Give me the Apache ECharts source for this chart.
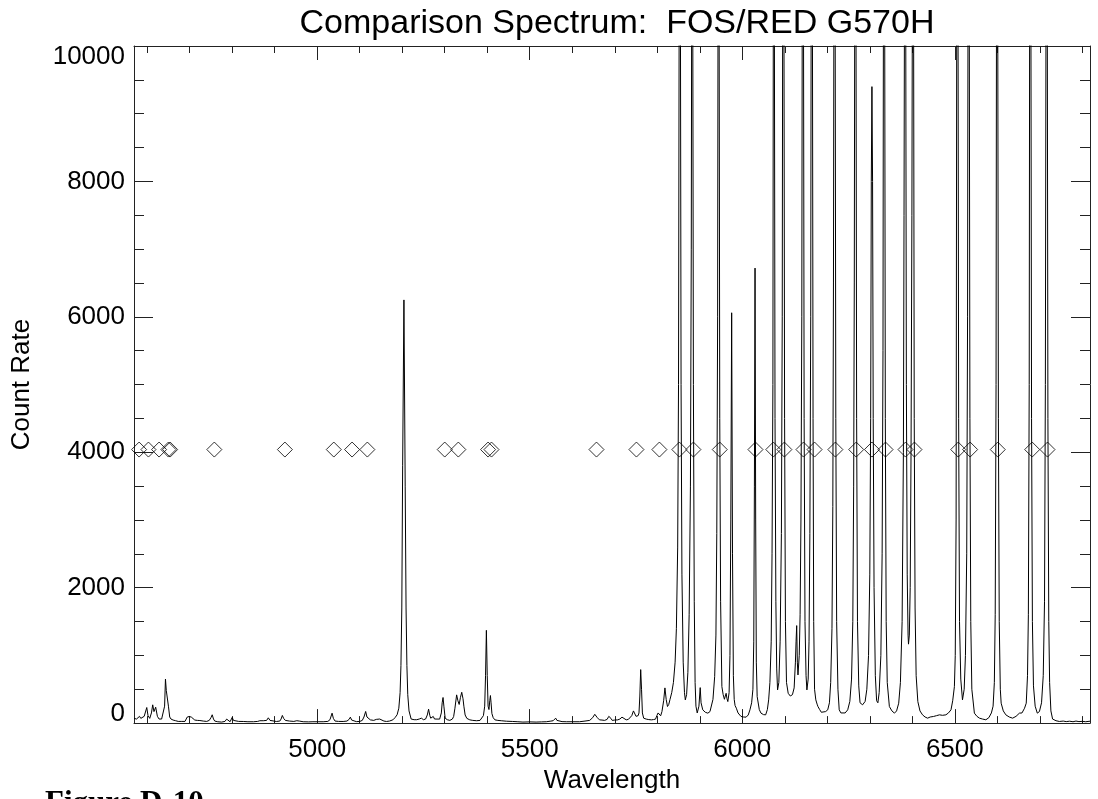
<!DOCTYPE html>
<html><head><meta charset="utf-8">
<script src="https://cdn.jsdelivr.net/npm/echarts@6/dist/echarts.min.js"></script>
<style>html,body{margin:0;padding:0;background:#fff}#c{width:1098px;height:799px}</style>
</head><body><div id="c"></div>
<script>
// ---- data ----
const titleText = 'Comparison Spectrum:  FOS/RED G570H';
const xName = 'Wavelength';
const yName = 'Count Rate';
const captionText = 'Figure D-10';
const xRange = [4569, 6818];
const yRange = [0, 10000];
const xTickLabels = [5000, 5500, 6000, 6500];
const yTickLabels = [0, 2000, 4000, 6000, 8000, 10000];

// spectrum, blue part [wavelength, count rate]
const specBlue = [
[4569,70],[4572,95],[4575,60],[4579,55],[4582,100],[4585,70],[4589,55],[4593,100],[4596,110],[4599,230],
[4602,110],[4606,70],[4610,150],[4613,270],[4616,170],[4620,235],[4624,100],[4628,60],[4634,60],[4638,70],
[4641,250],[4643,650],[4645,480],[4648,460],[4650,250],[4653,90],[4656,60],[4661,45],[4667,35],[4673,25],
[4680,25],[4689,25],[4694,88],[4699,98],[4701,80],[4704,88],[4708,60],[4712,45],[4718,40],[4724,38],
[4732,30],[4740,25],[4746,40],[4750,80],[4753,123],[4756,60],[4759,30],[4766,20],[4775,15],[4783,25],
[4787,59],[4790,30],[4795,20],[4800,84],[4803,40],[4806,20],[4815,25],[4826,24],[4837,20],[4850,20],
[4860,25],[4865,35],[4869,59],[4873,35],[4877,24],[4881,40],[4885,78],[4889,40],[4893,20],[4904,24],
[4912,30],[4915,60],[4918,113],[4921,70],[4925,40],[4935,30],[4945,25],[4952,35],[4955,48],[4958,30],
[4967,20],[4980,18],[4990,20],[5002,20],[5014,20],[5025,25],[5030,50],[5035,147],[5038,70],[5042,30],
[5050,25],[5061,24],[5070,30],[5075,55],[5078,88],[5081,45],[5085,24],[5092,22],[5100,24],[5106,40],
[5110,90],[5114,172],[5117,90],[5120,64],[5125,48],[5133,40],[5139,55],[5143,78],[5147,60],[5151,48],
[5157,30],[5163,24],[5170,30],[5178,48],[5183,80],[5188,123],[5192,220],[5195,450],[5197,850],[5199,1700],
[5201,3800],[5204,6250],[5207,3500],[5209,1700],[5211,850],[5213,420],[5216,180],[5221,60],[5228,50],[5234,50],
[5240,60],[5245,73],[5250,50],[5255,60],[5259,120],[5262,206],[5265,110],[5267,73],[5270,90],[5273,98],
[5276,60],[5280,48],[5288,59],[5292,150],[5294,300],[5296,378],[5298,250],[5301,73],[5306,50],[5312,40],
[5318,60],[5321,98],[5324,220],[5328,417],[5331,330],[5334,275],[5337,380],[5340,455],[5343,360],[5345,250],
[5348,120],[5352,70],[5359,48],[5366,40],[5375,35],[5383,40],[5387,48],[5391,110],[5394,250],[5396,700],
[5398,1370],[5400,700],[5402,250],[5404,200],[5406,330],[5407.5,407],[5409,300],[5411,140],[5414,80],[5418,48],
[5425,40],[5433,35],[5445,28],[5460,24],[5472,20],[5484,15],[5500,18],[5515,15],[5528,18],[5539,20],
[5548,28],[5555,35],[5558,50],[5561,73],[5564,40],[5567,24],[5576,22],[5586,20],[5600,20],[5617,20],
[5630,30],[5641,40],[5648,80],[5653,130],[5655,138],[5659,80],[5664,48],[5670,45],[5676,40],[5682,55],
[5686,100],[5688,108],[5691,70],[5694,40],[5700,45],[5707,48],[5712,60],[5715,85],[5717,88],[5721,60],
[5727,48],[5732,55],[5736,73],[5740,110],[5744,180],[5747,197],[5750,100],[5752,73],[5755,110],[5757,150],
[5759,400],[5761,790],[5763,500],[5765,150],[5768,73],[5774,59],[5780,52],[5786,48],[5791,52],[5796,59],
[5799,110],[5802,150],[5805,130],[5808,108],[5811,170],[5813,197],[5815,330],[5818,520],[5821,350],[5824,245],
[5827,275],[5830,350]
];

// spectrum, red part (strong lines run off the top of the plot)
const specRed = [
[5834,450],[5838,600],[5842,900],[5845,1400],[5848,2600],[5850,5000],[5851.5,10500],[5853,25000],[5854.5,10500],[5856,5000],
[5858,2200],[5861,900],[5864,450],[5866,343],[5869,420],[5872,750],[5875,1600],[5878,3500],[5880,7000],[5881,11000],
[5882,25000],[5883.5,10500],[5885,5000],[5887,1800],[5889,600],[5891,250],[5894,150],[5898,250],[5901,524],[5903,300],
[5907,196],[5913,160],[5919,147],[5924,170],[5927,196],[5931,350],[5935,686],[5938,1300],[5940,2800],[5942,6000],
[5943,11000],[5944,25000],[5945.5,10500],[5947,4500],[5949,1800],[5952,539],[5955,420],[5958,352],[5960,400],[5962,440],
[5964,360],[5966,318],[5969,450],[5971,1000],[5973,3000],[5975,6060],[5977,2500],[5979,700],[5981,350],[5983,260],
[5986,220],[5990,150],[5997,98],[6003,90],[6009,88],[6014,120],[6018,196],[6022,300],[6025,500],[6027,1200],
[6028.5,3500],[6030,6720],[6031.5,3000],[6033,900],[6035,392],[6040,200],[6044,147],[6050,125],[6055,122],[6059,200],
[6062,343],[6065,600],[6068,1200],[6070,2500],[6072,5000],[6073,10500],[6074,25000],[6075.5,10500],[6077,4500],[6079,1800],
[6081,800],[6083,490],[6086,600],[6089,1200],[6092,2800],[6094,6000],[6095,10500],[6096.5,25000],[6098,10500],[6099.5,4500],
[6101.5,1500],[6104,600],[6108,440],[6113,400],[6118,420],[6122,520],[6125,900],[6126.5,1200],[6128,1440],[6129.5,900],
[6131,711],[6134,1000],[6136,1600],[6138,3000],[6140,6000],[6141,10500],[6142.5,25000],[6144,10500],[6145.5,4500],[6147.5,1500],
[6150,700],[6152,490],[6155,650],[6157,1200],[6159,2800],[6161,6000],[6162,10500],[6163.5,25000],[6165,10500],[6166.5,4500],
[6168,1500],[6170,500],[6173,343],[6176,280],[6178,245],[6182,200],[6186,160],[6190,147],[6196,170],[6201,196],
[6205,300],[6208,600],[6211,1400],[6213,3200],[6214.5,6500],[6215.5,10500],[6217,25000],[6218.5,10500],[6220,4500],[6222,1500],
[6225,500],[6228,196],[6232,150],[6236,122],[6242,150],[6248,196],[6253,320],[6257,650],[6260,1500],[6262,3500],
[6263.5,6500],[6264.5,10500],[6266,25000],[6267.5,10500],[6269,4500],[6271,1500],[6274,550],[6277,300],[6283,270],[6289,320],
[6293,500],[6297,1000],[6300,2200],[6302,4500],[6303.5,8000],[6305,9400],[6306.5,8000],[6308,4500],[6310,2000],[6313,700],
[6316,330],[6319,300],[6322,450],[6326,1000],[6329,2500],[6331,5500],[6332,10500],[6333.5,25000],[6335,10500],[6336.5,4500],
[6338.5,1500],[6341,600],[6346,245],[6352,180],[6358,147],[6363,180],[6368,294],[6372,600],[6376,1500],[6379,4000],
[6380.5,7500],[6381.5,10500],[6383,25000],[6384.5,10500],[6386,5000],[6388,2200],[6390,1300],[6391,1166],[6393,1300],[6395,2000],
[6397,4000],[6399,7500],[6400,10500],[6401.5,25000],[6403,10500],[6404.5,4500],[6406.5,1700],[6409,700],[6413,318],[6418,180],
[6424,122],[6430,90],[6436,73],[6442,90],[6446,110],[6450,98],[6457,110],[6464,122],[6471,115],[6479,122],
[6485,150],[6491,196],[6495,330],[6499,539],[6501,1000],[6503,3000],[6504.5,10500],[6506,25000],[6507.5,10500],[6509,4500],
[6511,1500],[6514,650],[6518,343],[6522,500],[6525,1000],[6528,2500],[6530,6000],[6531,10500],[6532.5,25000],[6534,10500],
[6535.5,4500],[6537.5,1500],[6540,500],[6546,147],[6552,100],[6558,73],[6565,60],[6573,49],[6580,80],[6586,150],
[6590,250],[6593,600],[6595,1600],[6597,5000],[6598,10500],[6599.5,25000],[6601,10500],[6602.5,4500],[6604.5,1500],[6607,500],
[6609,294],[6614,180],[6620,122],[6628,90],[6636,73],[6644,100],[6652,147],[6658,150],[6664,220],[6668,294],
[6671,700],[6673,1600],[6675,5000],[6676,10500],[6677.5,25000],[6679,10500],[6680.5,4500],[6682.5,1500],[6685,550],[6689,250],
[6694,147],[6699,170],[6704,300],[6708,700],[6711,1800],[6713,5000],[6714.5,10500],[6716,25000],[6717.5,10500],[6719,4500],
[6721,1500],[6723,600],[6726,180],[6730,60],[6738,35],[6746,24],[6755,30],[6762,22],[6770,28],[6778,20],
[6785,30],[6792,22],[6800,26],[6808,20],[6818,28]
];

// identified lamp lines (diamond markers)
const lampLines = [4581,4603,4628,4650,4654,4758,4924,5039,5082,5118,5300,5332,5402,5410,5657,5751,5805,
  5852,5885,5947,6031,6073,6099,6144,6170,6219,6268,6305,6337,6384,6405,6508,6536,6601,6682,6718];
const markerLevel = 4040;

// ---- chart ----
const spectrum = specBlue.concat(specRed);
const markers = lampLines.map(w => [w, markerLevel]);
const FONT = '"Liberation Sans", Arial, Helvetica, sans-serif';
const AX = '#222';

const chart = echarts.init(document.getElementById('c'), null, {renderer: 'canvas'});
const xCommon = {
  type: 'value', min: xRange[0], max: xRange[1],
  splitLine: {show: false},
  axisLine: {show: true, onZero: false, lineStyle: {color: AX, width: 1}},
  axisTick: {show: true, inside: true, length: 14, lineStyle: {color: AX}},
  minorTick: {show: true, splitNumber: 5, length: 7, lineStyle: {color: AX}}
};
const yCommon = {
  type: 'value', min: yRange[0], max: yRange[1], interval: 2000,
  splitLine: {show: false},
  axisLine: {show: true, onZero: false, lineStyle: {color: AX, width: 1}},
  axisTick: {show: true, inside: true, length: 19, lineStyle: {color: AX}},
  minorTick: {show: true, splitNumber: 4, length: 10, lineStyle: {color: AX}}
};
chart.setOption({
  animation: false,
  backgroundColor: '#fff',
  title: {
    text: titleText, left: 612, top: 2, textAlign: 'center',
    textStyle: {fontFamily: FONT, fontSize: 34, fontWeight: 'normal', color: '#000'}
  },
  grid: {left: 134, right: 8, top: 46, bottom: 72, containLabel: false},
  xAxis: [
    Object.assign({}, xCommon, {
      position: 'bottom',
      name: xName, nameLocation: 'middle', nameGap: 37,
      nameTextStyle: {fontFamily: FONT, fontSize: 26, color: '#000'},
      axisLabel: {
        show: true, margin: 14, fontFamily: FONT, fontSize: 26, color: '#000',
        showMinLabel: false, showMaxLabel: false,
        formatter: v => xTickLabels.includes(v) ? String(v) : ''
      }
    }),
    Object.assign({}, xCommon, {position: 'top', axisLabel: {show: false}})
  ],
  yAxis: [
    Object.assign({}, yCommon, {
      position: 'left',
      name: yName, nameLocation: 'middle', nameGap: 99,
      nameTextStyle: {fontFamily: FONT, fontSize: 26, color: '#000'},
      axisLabel: {
        show: true, margin: 9, fontFamily: FONT, fontSize: 26, color: '#000',
        formatter: v => {
          if (!yTickLabels.includes(v)) return '';
          if (v === yRange[0]) return '{lo|' + v + '}';
          if (v === yRange[1]) return '{hi|' + v + '}';
          return String(v);
        },
        rich: {
          lo: {fontFamily: FONT, fontSize: 26, color: '#000', padding: [0, 0, 18, 0]},
          hi: {fontFamily: FONT, fontSize: 26, color: '#000', padding: [21, 0, 0, 0]}
        }
      }
    }),
    Object.assign({}, yCommon, {position: 'right', axisLabel: {show: false}})
  ],
  series: [
    {
      type: 'line', data: spectrum, xAxisIndex: 0, yAxisIndex: 0,
      showSymbol: false, symbol: 'none', clip: true, smooth: false,
      lineStyle: {color: '#000', width: 1}, z: 2
    },
    {
      type: 'scatter', data: markers, xAxisIndex: 0, yAxisIndex: 0,
      symbol: 'diamond', symbolSize: [15, 15],
      itemStyle: {color: 'rgba(255,255,255,0)', borderColor: '#000', borderWidth: 1}, z: 3
    }
  ],
  graphic: [{
    type: 'text', left: 45, top: 788,
    style: {text: captionText, font: 'bold 31px "Liberation Serif", "Times New Roman", serif', fill: '#000'}
  }]
});
</script></body></html>
